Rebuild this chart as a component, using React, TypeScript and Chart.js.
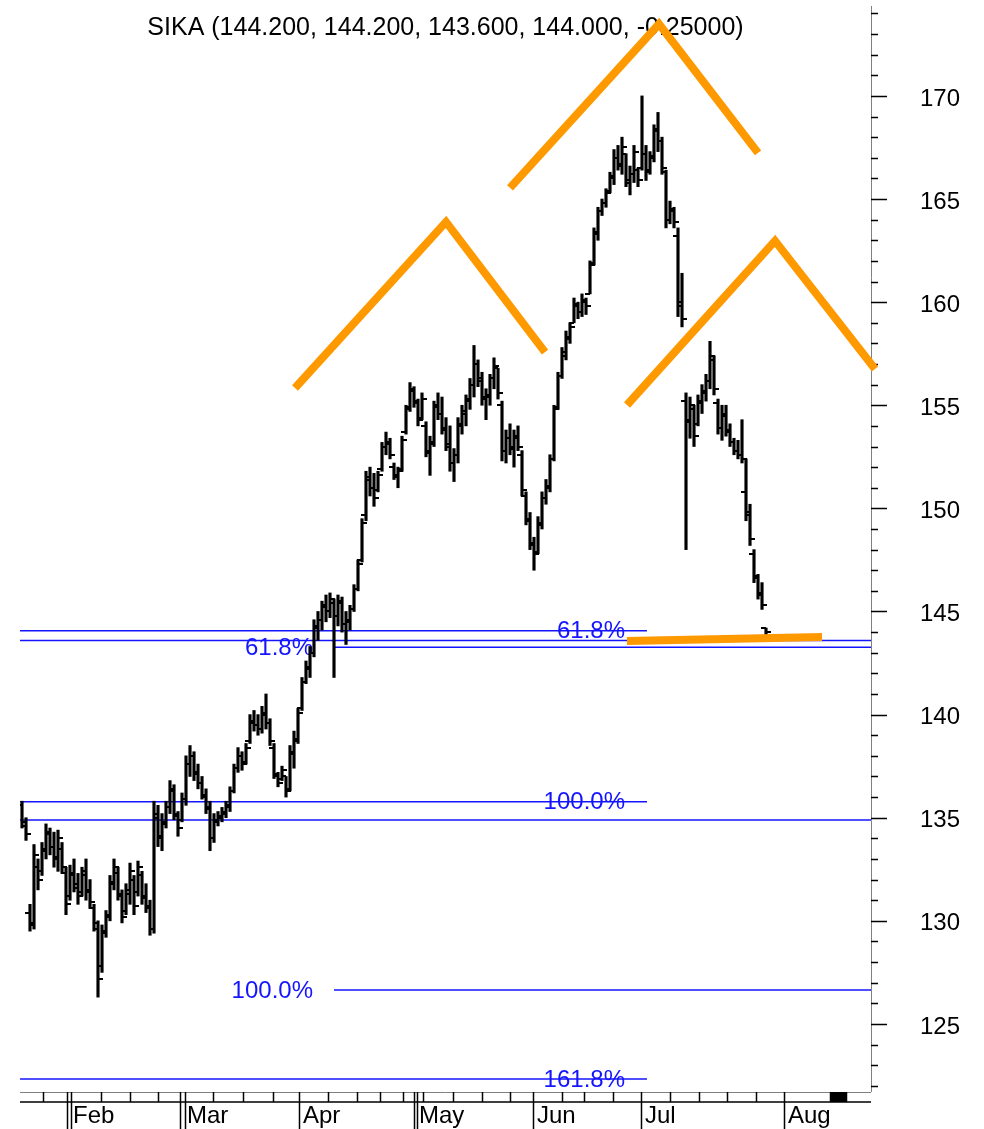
import { useEffect, useRef } from 'react';
import { Chart, registerables } from 'chart.js';

Chart.register(...registerables);

const TITLE = 'SIKA (144.200, 144.200, 143.600, 144.000, -0.25000)';

// OHLC bars (x = bar index)
const barHigh = [
  135.8, 135.0, 130.8, 133.7, 133.0, 133.8, 134.7, 134.5, 134.3, 134.4,
  133.8, 132.6, 132.7, 133.0, 132.3, 132.6, 133.0, 132.0, 130.8, 130.0,
  129.8, 130.5, 132.2, 133.0, 132.6, 131.5, 131.8, 132.8, 132.2, 132.9,
  132.4, 131.8, 131.0, 135.8, 135.6, 135.2, 135.8, 136.8, 136.6, 135.3,
  136.2, 138.0, 138.5, 138.2, 137.6, 137.0, 136.4, 135.8, 135.2, 135.3,
  135.5, 135.8, 136.5, 137.6, 138.4, 138.2, 138.6, 140.0, 140.2, 140.0,
  140.4, 141.0, 139.8, 138.6, 137.2, 137.5, 137.0, 138.5, 139.2, 140.3,
  141.8, 142.6, 143.3, 144.6, 145.0, 145.5, 145.8, 145.9, 145.6, 145.8,
  145.7, 145.0, 145.3, 146.3, 147.5, 149.5, 151.8, 152.0, 151.7, 151.8,
  153.2, 153.7, 153.4, 152.2, 152.0, 153.5, 155.0, 156.1, 155.9, 155.3,
  155.6, 154.2, 153.5, 155.2, 155.6, 155.4, 154.4, 154.0, 152.9, 154.4,
  155.0, 155.5, 156.3, 157.9, 157.2, 156.6, 155.8, 156.5, 157.3, 156.8,
  155.2, 153.8, 154.1, 153.8, 154.0, 152.8, 150.8, 149.8, 148.6, 149.6,
  150.8, 151.4, 152.6, 155.0, 156.6, 157.8, 158.6, 159.0, 160.2, 160.0,
  160.4, 160.2, 162.0, 163.6, 164.6, 165.0, 165.5, 166.3, 167.4, 167.6,
  168.0, 167.2, 166.6, 167.6, 166.5, 170.0, 167.6, 167.3, 168.6, 169.2,
  168.0, 166.4, 164.9, 164.6, 163.6, 161.4, 155.6, 155.4, 155.0, 155.5,
  156.0, 156.5, 158.1, 157.4, 155.3, 155.0, 155.0, 154.1, 153.4, 153.3,
  154.3, 152.4, 150.2, 148.0, 146.8, 146.4, 144.2,
];
const barLow = [
  134.5, 133.9, 129.5, 129.6, 131.5, 132.2, 133.0, 133.2, 132.6, 132.4,
  132.3, 130.3, 131.0, 131.4, 130.8, 131.2, 131.0, 130.6, 129.5, 126.3,
  127.5, 129.2, 130.0, 131.5, 131.0, 129.9, 130.3, 130.8, 130.3, 131.2,
  130.8, 130.4, 129.3, 129.4, 133.6, 133.4, 134.5, 135.2, 134.9, 134.1,
  134.8, 135.6, 137.0, 136.8, 136.4, 135.9, 135.2, 133.4, 133.8, 134.6,
  134.8, 135.0, 135.3, 136.2, 137.2, 137.3, 137.6, 138.6, 139.2, 139.0,
  139.1, 139.3, 138.5, 136.9, 136.5, 136.8, 136.0, 136.3, 137.4, 138.6,
  140.2, 141.5, 141.8, 142.8, 143.6, 144.1, 144.5, 144.7, 141.8, 144.3,
  144.0, 143.4, 144.1, 145.0, 146.0, 147.4, 149.4, 150.6, 150.1, 150.8,
  151.8, 152.6, 152.4, 151.4, 151.0, 151.8, 153.6, 154.7, 154.9, 154.0,
  154.3, 152.5, 151.6, 153.0, 154.3, 153.6, 152.8, 151.8, 151.3, 152.2,
  153.6, 154.0, 154.8, 155.4, 155.9, 155.0, 154.3, 155.0, 155.8, 155.3,
  152.3, 152.2, 152.6, 152.0, 152.8, 150.6, 149.2, 148.0, 147.0, 147.8,
  149.0, 150.2, 150.8, 152.3, 154.8, 156.3, 157.2, 158.0, 159.0, 159.2,
  159.3, 159.4, 160.4, 161.8, 163.0, 164.2, 164.6, 165.3, 165.7, 166.4,
  166.2, 165.6, 165.2, 165.8, 165.6, 166.4, 165.9, 166.2, 166.8, 167.3,
  166.2, 163.6, 163.8, 163.6, 159.3, 158.8, 148.0, 153.4, 153.0, 154.0,
  154.6, 155.2, 155.8, 155.5, 153.6, 153.3, 153.5, 153.0, 152.6, 152.4,
  152.2, 149.4, 148.2, 146.4, 145.6, 145.1, 143.6,
];
const barOpen = [
  135.6, 134.6, 130.4, 129.9, 132.6, 132.4, 133.4, 134.2, 133.6, 133.1,
  133.5, 132.3, 131.2, 132.2, 131.6, 131.4, 132.4, 131.5, 130.6, 129.6,
  127.8, 129.5, 130.3, 131.9, 132.3, 131.2, 130.5, 131.3, 132.0, 131.4,
  132.2, 131.2, 130.7, 129.6, 135.0, 134.1, 134.7, 135.5, 136.3, 135.1,
  134.9, 135.9, 137.6, 138.0, 137.2, 136.7, 136.0, 135.4, 134.0, 134.8,
  135.0, 135.2, 135.5, 136.3, 137.4, 138.0, 137.7, 138.7, 139.6, 139.5,
  139.3, 140.0, 139.6, 138.4, 137.0, 136.9, 137.0, 136.4, 138.1, 138.7,
  140.3, 141.6, 142.2, 143.0, 144.2, 144.6, 145.2, 145.0, 145.4, 144.8,
  145.4, 144.4, 144.5, 145.1, 146.1, 147.5, 149.7, 151.4, 151.0, 150.9,
  151.9, 153.0, 153.1, 152.0, 151.5, 151.9, 153.7, 154.9, 155.7, 155.1,
  154.4, 154.0, 152.7, 153.1, 154.9, 154.6, 153.9, 153.0, 152.2, 152.6,
  154.0, 154.6, 155.2, 156.0, 157.0, 156.3, 155.4, 155.4, 156.3, 156.8,
  155.0, 152.8, 153.4, 153.0, 153.4, 152.6, 150.6, 149.4, 148.2, 147.9,
  149.2, 150.5, 151.0, 152.4, 154.9, 156.4, 157.4, 158.2, 159.0, 159.8,
  159.5, 160.0, 160.4, 161.9, 163.3, 164.4, 164.8, 165.4, 166.0, 167.0,
  166.7, 167.2, 165.8, 166.2, 166.4, 166.5, 167.2, 166.4, 167.0, 168.4,
  167.8, 166.3, 164.0, 164.4, 163.2, 160.0, 155.2, 154.3, 154.8, 154.1,
  155.1, 155.6, 156.2, 157.2, 155.1, 153.9, 154.5, 153.8, 153.2, 152.8,
  152.6, 150.8, 149.8, 147.8, 146.6, 145.8, 144.2,
];
const barClose = [
  134.8, 134.2, 129.8, 133.2, 132.0, 133.5, 134.3, 133.6, 133.0, 134.0,
  132.6, 130.8, 132.3, 131.8, 131.2, 132.2, 131.4, 130.9, 129.9, 127.2,
  129.4, 130.2, 131.8, 132.6, 131.3, 130.2, 131.5, 132.4, 130.7, 132.6,
  131.1, 130.6, 129.6, 135.2, 134.0, 134.8, 135.5, 136.4, 135.2, 134.5,
  135.9, 137.6, 138.0, 137.1, 136.7, 136.1, 135.5, 134.0, 134.9, 135.1,
  135.3, 135.6, 136.3, 137.4, 138.0, 137.6, 138.4, 139.7, 139.5, 139.3,
  140.1, 139.6, 138.7, 137.1, 136.7, 137.3, 136.3, 138.2, 138.8, 140.1,
  141.6, 142.3, 143.0, 144.3, 144.6, 145.3, 145.0, 145.6, 144.8, 145.5,
  144.4, 144.6, 145.1, 146.1, 147.3, 149.3, 151.5, 151.0, 150.5, 151.6,
  153.0, 153.2, 152.6, 151.6, 151.8, 153.3, 154.8, 155.8, 155.2, 154.3,
  155.3, 152.8, 153.2, 155.0, 154.6, 153.8, 153.1, 152.2, 152.6, 154.1,
  154.7, 155.3, 156.0, 157.0, 156.2, 155.3, 155.5, 156.3, 156.9, 155.6,
  152.8, 153.4, 152.9, 153.5, 153.0, 150.9, 149.5, 148.3, 147.8, 149.3,
  150.5, 151.1, 152.4, 154.8, 156.4, 157.6, 158.3, 158.8, 159.9, 159.5,
  160.1, 159.8, 161.8, 163.4, 164.4, 164.8, 165.3, 166.1, 167.0, 166.6,
  167.5, 165.9, 166.2, 167.3, 165.9, 167.2, 166.3, 167.1, 168.3, 167.8,
  166.5, 164.0, 164.5, 163.9, 159.8, 159.2, 154.2, 155.0, 153.5, 155.2,
  155.7, 156.2, 157.4, 155.8, 153.9, 154.6, 153.7, 153.2, 152.8, 152.6,
  152.4, 149.7, 148.5, 146.7, 145.9, 145.3, 144.0,
];

// x axis (bar-index units)
const X_MIN = -0.5;
const X_MAX = 212.25;
const monthLabels = ['Feb', 'Mar', 'Apr', 'May', 'Jun', 'Jul', 'Aug'];
const monthLabelPos = [12.75, 41.25, 70.25, 99.25, 128.75, 155.75, 191.5];
const monthLinePos = [11.25, 12.25, 39.5, 40.75, 69.25, 98, 98.75, 127.75, 154.75, 190.5];
const weekTickPos = [5.25, 19.75, 27, 34, 47.75, 55.25, 62.75, 76.5, 83.75, 89.5, 95.25, 100.25,
  107.75, 115, 122, 135, 140.5, 147.75, 162, 169.25, 176.25, 183.5, 202, 206];
const markerFrom = 202;
const markerTo = 206;

// y axis
const Y_MIN = 121.7;
const Y_MAX = 174.36;
const yLabelValues = [125, 130, 135, 140, 145, 150, 155, 160, 165, 170];

// Fibonacci lines
const fibValues = [144.07, 143.59, 143.27, 135.78, 134.89, 126.64, 122.33];
const fibStart = [-0.5, -0.5, 77.75, -0.5, -0.5, 78, -0.5];
const fibEnd = [156.25, 212.25, 212.25, 156.25, 212.25, 212.25, 156.25];
const fibLabels = ['61.8%', '', '61.8%', '100.0%', '', '100.0%', '161.8%'];
const fibLabelRight = [150.75, 0, 72.75, 150.75, 0, 72.75, 150.75];

// head & shoulders drawing
const leftShoulderX = [68.25, 106, 130.75];
const leftShoulderY = [155.84, 163.89, 157.58];
const headX = [122, 159.25, 184];
const headY = [165.54, 173.49, 167.24];
const rightShoulderX = [151.25, 188.25, 213.25];
const rightShoulderY = [155.01, 162.97, 156.76];
const necklineX = [151.25, 200];
const necklineY = [143.57, 143.76];

const FONT = '"Liberation Sans", Arial, Helvetica, sans-serif';
const BLUE = 'rgb(20,20,255)';
const ORANGE = '#ff9900';

function tickImage(left: boolean) {
  const c = document.createElement('canvas');
  c.width = 10;
  c.height = 2;
  const g = c.getContext('2d')!;
  g.fillStyle = '#000';
  g.fillRect(left ? 0 : 5, 0, 5, 2);
  return c;
}

const decorPlugin = {
  id: 'decor',
  beforeDatasetsDraw(chart: any) {
    const { ctx, chartArea, scales } = chart;
    const { left, right, top, bottom } = chartArea;
    const x = scales.x;
    const y = scales.y;
    ctx.save();
    // title
    ctx.fillStyle = '#000';
    ctx.font = `25px ${FONT}`;
    ctx.textAlign = 'center';
    ctx.textBaseline = 'middle';
    ctx.fillText(TITLE, (left + right) / 2, top + 22);

    // axis frame
    ctx.strokeStyle = '#808080';
    ctx.lineWidth = 1;
    ctx.beginPath();
    ctx.moveTo(right + 0.5, top);
    ctx.lineTo(right + 0.5, bottom);
    ctx.moveTo(left, bottom + 0.5);
    ctx.lineTo(right, bottom + 0.5);
    ctx.stroke();

    // y ticks
    ctx.strokeStyle = '#000';
    ctx.lineWidth = 1.5;
    ctx.beginPath();
    for (let v = Math.ceil(y.min); v <= Math.floor(y.max); v++) {
      const py = Math.round(y.getPixelForValue(v)) + 0.5;
      const major = yLabelValues.includes(v);
      ctx.moveTo(right, py);
      ctx.lineTo(right + (major ? 16 : 7), py);
    }
    ctx.stroke();
    ctx.font = `24px ${FONT}`;
    ctx.textAlign = 'center';
    ctx.textBaseline = 'middle';
    yLabelValues.forEach((v) => {
      ctx.fillText(String(v), right + 69, y.getPixelForValue(v) + 3);
    });

    // x axis band
    ctx.lineWidth = 1.5;
    ctx.beginPath();
    ctx.moveTo(left, bottom + 10);
    ctx.lineTo(right, bottom + 10);
    weekTickPos.forEach((v) => {
      const px = Math.round(x.getPixelForValue(v)) + 0.5;
      ctx.moveTo(px, bottom);
      ctx.lineTo(px, bottom + 10);
    });
    monthLinePos.forEach((v) => {
      const px = Math.round(x.getPixelForValue(v)) + 0.5;
      ctx.moveTo(px, bottom);
      ctx.lineTo(px, chart.height);
    });
    ctx.stroke();
    const mx0 = x.getPixelForValue(markerFrom);
    const mx1 = x.getPixelForValue(markerTo);
    ctx.fillRect(mx0, bottom, mx1 - mx0, 10);
    ctx.textAlign = 'left';
    ctx.textBaseline = 'alphabetic';
    monthLabels.forEach((m, i) => {
      ctx.fillText(m, x.getPixelForValue(monthLabelPos[i]), bottom + 31);
    });

    // fib labels
    ctx.fillStyle = BLUE;
    ctx.textAlign = 'right';
    ctx.textBaseline = 'middle';
    fibLabels.forEach((t, i) => {
      if (!t) return;
      ctx.fillText(t, x.getPixelForValue(fibLabelRight[i]), y.getPixelForValue(fibValues[i]) + 1);
    });
    ctx.restore();
  },
};

export default function App() {
  const ref = useRef<HTMLCanvasElement>(null);
  useEffect(() => {
    document.body.style.margin = '0';
    if (!ref.current) return;
    const openImg = tickImage(true);
    const closeImg = tickImage(false);

    const orange = (xs: number[], ys: number[]) => ({
      type: 'line' as const,
      data: xs.map((v, i) => ({ x: v, y: ys[i] })),
      borderColor: ORANGE,
      borderWidth: 8,
      borderJoinStyle: 'miter' as const,
      borderCapStyle: 'butt' as const,
      pointRadius: 0,
      tension: 0,
      clip: false as any,
      order: 0,
    });

    const fibSets = fibValues.map((v, i) => ({
      type: 'line' as const,
      data: [
        { x: fibStart[i], y: v },
        { x: fibEnd[i], y: v },
      ],
      borderColor: BLUE,
      borderWidth: 1.5,
      pointRadius: 0,
      tension: 0,
      order: 3,
    }));

    const chart = new Chart(ref.current, {
      type: 'bar',
      data: {
        datasets: [
          orange(leftShoulderX, leftShoulderY),
          orange(headX, headY),
          orange(rightShoulderX, rightShoulderY),
          orange(necklineX, necklineY),
          {
            type: 'bar',
            data: barHigh.map((h, i) => ({ x: i, y: [barLow[i], h] })) as any,
            backgroundColor: '#000',
            borderWidth: 0,
            barThickness: 2.5,
            order: 2,
          },
          {
            type: 'scatter',
            data: barOpen.map((o, i) => ({ x: i, y: o })),
            pointStyle: openImg as any,
            pointRadius: 1,
            showLine: false,
            order: 1,
          },
          {
            type: 'scatter',
            data: barClose.map((c, i) => ({ x: i, y: c })),
            pointStyle: closeImg as any,
            pointRadius: 1,
            showLine: false,
            order: 1,
          },
          ...fibSets,
        ] as any,
      },
      options: {
        animation: false,
        responsive: false,
        devicePixelRatio: 1,
        events: [],
        layout: { padding: { left: 20, right: 113, top: 6, bottom: 37 } },
        plugins: {
          legend: { display: false },
          tooltip: { enabled: false },
          title: { display: false },
        },
        scales: {
          x: { type: 'linear', display: false, min: X_MIN, max: X_MAX, offset: false, grid: { display: false } },
          y: { type: 'linear', display: false, min: Y_MIN, max: Y_MAX, grid: { display: false } },
        },
      },
      plugins: [decorPlugin],
    });
    return () => chart.destroy();
  }, []);
  return (
    <div style={{ width: 984, height: 1129 }}>
      <canvas ref={ref} width={984} height={1129} style={{ display: 'block' }} />
    </div>
  );
}
